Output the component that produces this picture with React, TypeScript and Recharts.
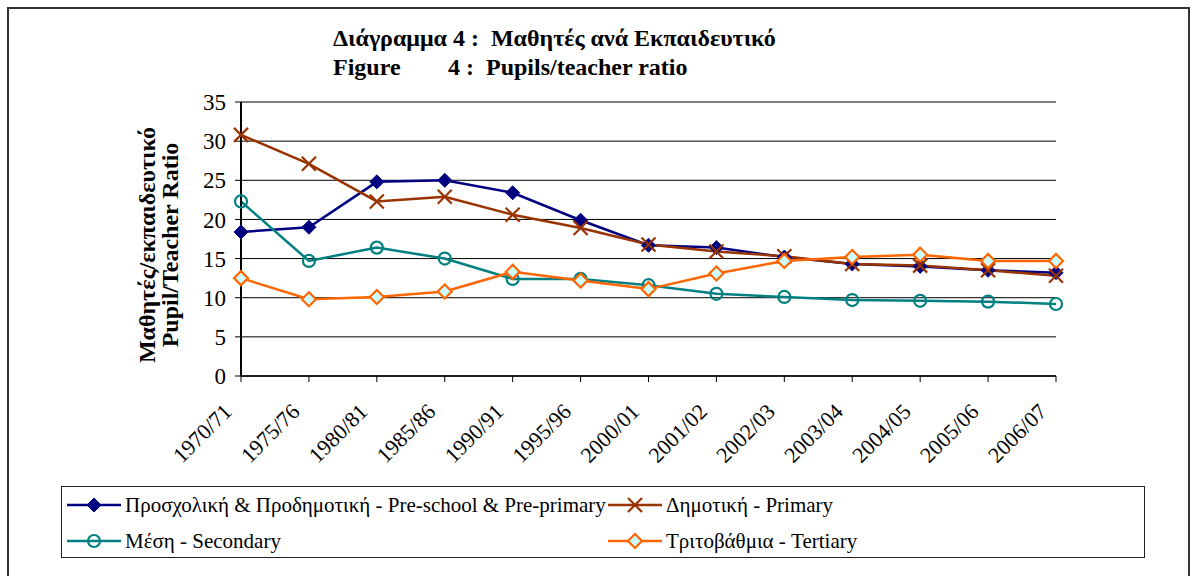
import { LineChart, Line, XAxis, YAxis, CartesianGrid, Legend } from 'recharts';

const years = [
  '1970/71', '1975/76', '1980/81', '1985/86', '1990/91', '1995/96', '2000/01',
  '2001/02', '2002/03', '2003/04', '2004/05', '2005/06', '2006/07',
];
const preschool = [18.4, 19.0, 24.8, 25.0, 23.4, 19.9, 16.7, 16.4, 15.2, 14.3, 14.0, 13.5, 13.2];
const primary = [30.8, 27.1, 22.3, 22.9, 20.6, 18.9, 16.8, 15.9, 15.3, 14.3, 14.1, 13.5, 12.8];
const secondary = [22.3, 14.7, 16.4, 15.0, 12.4, 12.4, 11.6, 10.5, 10.1, 9.7, 9.6, 9.5, 9.2];
const tertiary = [12.5, 9.8, 10.1, 10.8, 13.3, 12.2, 11.1, 13.1, 14.7, 15.2, 15.5, 14.7, 14.7];
const yTicks = [0, 5, 10, 15, 20, 25, 30, 35];

const SERIES = [
  { key: 'pre', name: 'Προσχολική & Προδημοτική - Pre-school & Pre-primary', color: '#000080', shape: 'diamondFilled' },
  { key: 'pri', name: 'Δημοτική - Primary', color: '#993300', shape: 'cross' },
  { key: 'sec', name: 'Μέση - Secondary', color: '#008080', shape: 'circle' },
  { key: 'ter', name: 'Τριτοβάθμια - Tertiary', color: '#FF6600', shape: 'diamondOpen' },
];

const data = years.map((y, i) => ({
  year: y,
  pre: preschool[i],
  pri: primary[i],
  sec: secondary[i],
  ter: tertiary[i],
}));

const FONT = '"Liberation Serif", "Times New Roman", serif';

function Marker({ cx, cy, shape, color }: { cx: number; cy: number; shape: string; color: string }) {
  const s = 7;
  if (shape === 'diamondFilled') {
    return <polygon points={`${cx},${cy - s} ${cx + s},${cy} ${cx},${cy + s} ${cx - s},${cy}`} fill={color} stroke={color} strokeWidth={1} />;
  }
  if (shape === 'diamondOpen') {
    return <polygon points={`${cx},${cy - s} ${cx + s},${cy} ${cx},${cy + s} ${cx - s},${cy}`} fill="#CCFFFF" stroke={color} strokeWidth={2.2} />;
  }
  if (shape === 'circle') {
    return <circle cx={cx} cy={cy} r={6} fill="none" stroke={color} strokeWidth={2.2} />;
  }
  return (
    <g stroke={color} strokeWidth={2.2}>
      <line x1={cx - s} y1={cy - s} x2={cx + s} y2={cy + s} />
      <line x1={cx - s} y1={cy + s} x2={cx + s} y2={cy - s} />
    </g>
  );
}

function makeDot(shape: string, color: string) {
  return (props: any) => {
    const { cx, cy, index } = props;
    if (cx == null || cy == null) return <g key={index} />;
    return <Marker key={index} cx={cx} cy={cy} shape={shape} color={color} />;
  };
}

function XTick({ x, y, payload }: any) {
  return (
    <g transform={`translate(${x - 8},${y + 29})`}>
      <text textAnchor="end" transform="rotate(-45)" fontFamily={FONT} fontSize={22} fill="#000">
        {payload.value}
      </text>
    </g>
  );
}

function LegendItem({ s }: { s: (typeof SERIES)[number] }) {
  return (
    <div style={{ display: 'flex', alignItems: 'center', height: 36 }}>
      <svg width={58} height={20}>
        <line x1={0} y1={10} x2={54} y2={10} stroke={s.color} strokeWidth={2.5} />
        <Marker cx={27} cy={10} shape={s.shape} color={s.color} />
      </svg>
      <span style={{ fontFamily: FONT, fontSize: 21, color: '#000', whiteSpace: 'nowrap' }}>{s.name}</span>
    </div>
  );
}

function LegendBox() {
  return (
    <div
      style={{
        width: 1084,
        height: 72,
        boxSizing: 'border-box',
        border: '1.5px solid #222',
        display: 'grid',
        gridTemplateColumns: '541px 540px',
        gridTemplateRows: '36px 36px',
        paddingLeft: 5,
        background: '#fff',
      }}
    >
      <LegendItem s={SERIES[0]} />
      <LegendItem s={SERIES[1]} />
      <LegendItem s={SERIES[2]} />
      <LegendItem s={SERIES[3]} />
    </div>
  );
}

export default function App() {
  return (
    <div style={{ position: 'absolute', left: 0, top: 0, width: 1193, height: 576, background: '#fff', overflow: 'hidden' }}>
      <div
        style={{
          position: 'absolute',
          left: 7,
          top: 7,
          width: 1183,
          height: 600,
          border: '2px solid #333',
          boxSizing: 'border-box',
        }}
      />
      <div style={{ position: 'absolute', left: 333, top: 24, fontFamily: FONT, fontWeight: 'bold', fontSize: 24, whiteSpace: 'pre', lineHeight: '29px' }}>
        <div>Διάγραμμα 4 :  Μαθητές ανά Εκπαιδευτικό</div>
        <div style={{ position: 'relative' }}>
          <span>Figure</span>
          <span style={{ position: 'absolute', left: 115 }}>4 :  Pupils/teacher ratio</span>
        </div>
      </div>
      <div
        style={{
          position: 'absolute',
          left: 159,
          top: 245,
          transform: 'translate(-50%, -50%) rotate(-90deg)',
          fontFamily: FONT,
          fontWeight: 'bold',
          fontSize: 24,
          lineHeight: '23px',
          textAlign: 'center',
          whiteSpace: 'nowrap',
        }}
      >
        <div>Μαθητές/εκπαιδευτικό</div>
        <div>Pupil/Teacher Ratio</div>
      </div>
      <div style={{ position: 'absolute', left: 0, top: 0 }}>
        <LineChart width={1193} height={576} data={data} margin={{ top: 102, right: 137, left: 181, bottom: 28 }}>
          <CartesianGrid vertical={false} stroke="#000" strokeWidth={1} />
          <XAxis
            dataKey="year"
            interval={0}
            height={100}
            tick={<XTick />}
            tickSize={6}
            tickMargin={2}
            axisLine={{ stroke: '#000', strokeWidth: 1.5 }}
            tickLine={{ stroke: '#000' }}
          />
          <YAxis
            domain={[0, 35]}
            ticks={yTicks}
            interval={0}
            width={60}
            tickSize={6}
            tickMargin={9}
            tick={{ fontFamily: FONT, fontSize: 23, fill: '#000' }}
            axisLine={{ stroke: '#000', strokeWidth: 2 }}
            tickLine={{ stroke: '#000' }}
          />
          <YAxis yAxisId="r" orientation="right" width={0} domain={[0, 35]} tick={false} tickLine={false} axisLine={{ stroke: '#000' }} />
          <Legend
            content={<LegendBox />}
            wrapperStyle={{ position: 'absolute', left: 61, top: 486, width: 1084, height: 72 }}
          />
          {SERIES.map((s) => (
            <Line
              key={s.key}
              dataKey={s.key}
              name={s.name}
              stroke={s.color}
              strokeWidth={2.5}
              dot={makeDot(s.shape, s.color)}
              activeDot={false}
              isAnimationActive={false}
            />
          ))}
        </LineChart>
      </div>
    </div>
  );
}
